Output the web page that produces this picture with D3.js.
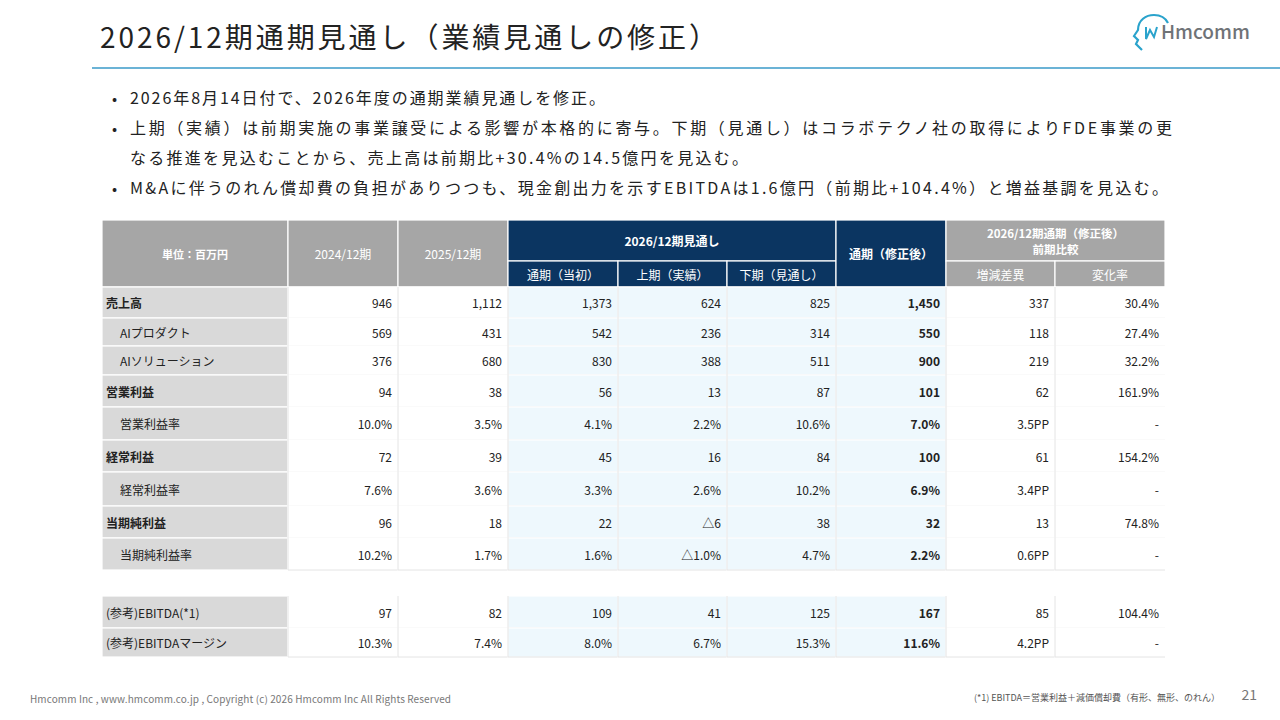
<!DOCTYPE html>
<html>
<head>
<meta charset="utf-8" />
<script src="https://d3js.org/d3.v7.min.js"></script>
<style>
body{margin:0;background:#fff;}
text{font-family:"Noto Sans CJK JP","Noto Sans",sans-serif;}
</style>
</head>
<body>
<svg id="slide" width="1280" height="720"></svg>
<script>
var bullets = [
  ["2026年8月14日付で、2026年度の通期業績見通しを修正。"],
  ["上期（実績）は前期実施の事業譲受による影響が本格的に寄与。下期（見通し）はコラボテクノ社の取得によりFDE事業の更",
   "なる推進を見込むことから、売上高は前期比+30.4%の14.5億円を見込む。"],
  ["M&Aに伴うのれん償却費の負担がありつつも、現金創出力を示すEBITDAは1.6億円（前期比+104.4%）と増益基調を見込む。"]
];
var bulletWidths = [[475],[1042,618],[1038]];
var rowLabels = ["売上高","AIプロダクト","AIソリューション","営業利益","営業利益率","経常利益","経常利益率","当期純利益","当期純利益率","","(参考)EBITDA(*1)","(参考)EBITDAマージン"];
var boldRows = [true,false,false,true,false,true,false,true,false,false,false,false];
var indentRows = [false,true,true,false,true,false,true,false,true,false,false,false];
var fy2024 = ["946","569","376","94","10.0%","72","7.6%","96","10.2%","","97","10.3%"];
var fy2025 = ["1,112","431","680","38","3.5%","39","3.6%","18","1.7%","","82","7.4%"];
var initial = ["1,373","542","830","56","4.1%","45","3.3%","22","1.6%","","109","8.0%"];
var firstHalf = ["624","236","388","13","2.2%","16","2.6%","△6","△1.0%","","41","6.7%"];
var secondHalf = ["825","314","511","87","10.6%","84","10.2%","38","4.7%","","125","15.3%"];
var revised = ["1,450","550","900","101","7.0%","100","6.9%","32","2.2%","","167","11.6%"];
var diff = ["337","118","219","62","3.5PP","61","3.4PP","13","0.6PP","","85","4.2PP"];
var rate = ["30.4%","27.4%","32.2%","161.9%","-","154.2%","-","74.8%","-","","104.4%","-"];

var svg = d3.select("#slide");
var navy = "#0b3561", grayHead = "#a6a6a6", grayLab = "#d9d9d9", lightBlue = "#eef8fd";

svg.append("text").attr("x",100).attr("y",48).attr("font-size",28).attr("fill","#222")
  .attr("textLength",617).attr("lengthAdjust","spacing")
  .text("2026/12期通期見通し（業績見通しの修正）");
svg.append("line").attr("x1",92).attr("x2",1280).attr("y1",68).attr("y2",68)
  .attr("stroke","#3a9ac9").attr("stroke-width",1.5);

// logo
var logo = svg.append("g").attr("transform","translate(1132,14)");
logo.append("path").attr("d","M10,36 L4,30 L6,26 L2,22 L6,16 C6,6 14,1 22,1 C30,1 34,5 36,9")
  .attr("fill","none").attr("stroke","#2aa3cc").attr("stroke-width",2.2);
logo.append("path").attr("d","M14,13 L14,25 L18,16 L22,23 L25,13")
  .attr("fill","none").attr("stroke","#2aa3cc").attr("stroke-width",2);
logo.append("text").attr("x",29).attr("y",25).attr("font-size",19).attr("font-family","Roboto")
  .attr("font-weight",500).attr("fill","#6f7377").text("Hmcomm");

// bullets
var by = 104;
bullets.forEach(function(b,bi){
  svg.append("text").attr("x",112).attr("y",by).attr("font-size",15).attr("fill","#222").text("•");
  b.forEach(function(line,i){
    svg.append("text").attr("x",130).attr("y",by + i*30).attr("font-size",16).attr("fill","#222")
      .attr("textLength",bulletWidths[bi][i]).attr("lengthAdjust","spacing").text(line);
  });
  by += b.length*30;
});

// table geometry
var colEdges = [102,288,398,508,618,727,836,946,1055,1165];
var rowEdges = [287,318,346,375,407,440,472,506,538,570,596,628,657];
var cols = [fy2024,fy2025,initial,firstHalf,secondHalf,revised,diff,rate];
var x = function(i){ return colEdges[i]; };
var y = d3.scaleOrdinal().domain(d3.range(13)).range(rowEdges);

var g = svg.append("g");
function cell(x0,y0,w,h,fill){
  g.append("rect").attr("x",x0).attr("y",y0).attr("width",w).attr("height",h)
    .attr("fill",fill).attr("stroke","#fff").attr("stroke-width",1.2);
}
function txt(tx,ty,s,opt){
  opt = opt || {};
  g.append("text").attr("x",tx).attr("y",ty).attr("font-size",opt.size||12)
    .attr("text-anchor",opt.anchor||"middle").attr("dominant-baseline","central")
    .attr("font-weight",opt.bold?700:400).attr("fill",opt.fill||"#222").text(s);
}

// header
var hTop = 220, hMid = 261, hBot = 287;
cell(x(0),hTop,x(1)-x(0),hBot-hTop,grayHead);
txt((x(0)+x(1))/2,(hTop+hBot)/2,"単位：百万円",{bold:true,fill:"#fff",size:11});
["2024/12期","2025/12期"].forEach(function(s,i){
  cell(x(i+1),hTop,x(i+2)-x(i+1),hBot-hTop,grayHead);
  txt((x(i+1)+x(i+2))/2,(hTop+hBot)/2,s,{fill:"#fff",size:12});
});
cell(x(3),hTop,x(6)-x(3),hMid-hTop,navy);
txt((x(3)+x(6))/2,(hTop+hMid)/2,"2026/12期見通し",{bold:true,fill:"#fff"});
["通期（当初）","上期（実績）","下期（見通し）"].forEach(function(s,i){
  cell(x(i+3),hMid,x(i+4)-x(i+3),hBot-hMid,navy);
  txt((x(i+3)+x(i+4))/2,(hMid+hBot)/2,s,{fill:"#fff"});
});
cell(x(6),hTop,x(7)-x(6),hBot-hTop,navy);
txt((x(6)+x(7))/2,(hTop+hBot)/2,"通期（修正後）",{bold:true,fill:"#fff"});
cell(x(7),hTop,x(9)-x(7),hMid-hTop,grayHead);
txt((x(7)+x(9))/2,hTop+13,"2026/12期通期（修正後）",{bold:true,fill:"#fff",size:11.5});
txt((x(7)+x(9))/2,hTop+29,"前期比較",{bold:true,fill:"#fff",size:11.5});
["増減差異","変化率"].forEach(function(s,i){
  cell(x(i+7),hMid,x(i+8)-x(i+7),hBot-hMid,grayHead);
  txt((x(i+7)+x(i+8))/2,(hMid+hBot)/2,s,{fill:"#fff"});
});

// body
rowLabels.forEach(function(lab,r){
  if (r === 9) return;
  var y0 = y(r), y1 = y(r+1), cy = (y0+y1)/2;
  cell(x(0),y0,x(1)-x(0),y1-y0,grayLab);
  txt(x(0)+(indentRows[r]?18:4),cy,lab,{anchor:"start",bold:boldRows[r]});
  cols.forEach(function(col,c){
    var blue = c>=2 && c<=5;
    cell(x(c+1),y0,x(c+2)-x(c+1),y1-y0,blue?lightBlue:"#fff");
    g.append("line").attr("x1",x(c+1)).attr("x2",x(c+2)).attr("y1",y1).attr("y2",y1)
      .attr("stroke","#e4e4e4").attr("stroke-width",1);
    txt(x(c+2)-6,cy,col[r],{anchor:"end",bold:c===5});
  });
});
d3.range(1,9).forEach(function(i){
  [[287,570],[596,657]].forEach(function(s){
    g.append("line").attr("x1",x(i)).attr("x2",x(i)).attr("y1",s[0]).attr("y2",s[1])
      .attr("stroke","#e4e4e4").attr("stroke-width",1);
  });
});

// footer
svg.append("text").attr("x",30).attr("y",703).attr("font-size",10).attr("font-family","Liberation Sans")
  .attr("fill","#777").attr("textLength",421).attr("lengthAdjust","spacing")
  .text("Hmcomm Inc , www.hmcomm.co.jp , Copyright (c)  2026 Hmcomm Inc All Rights Reserved");
svg.append("text").attr("x",1220).attr("y",701).attr("font-size",9).attr("text-anchor","end")
  .attr("fill","#555").text("(*1) EBITDA＝営業利益＋減価償却費（有形、無形、のれん）");
svg.append("text").attr("x",1257).attr("y",700).attr("font-size",14).attr("text-anchor","end")
  .attr("fill","#777").text("21");
</script>
</body>
</html>
